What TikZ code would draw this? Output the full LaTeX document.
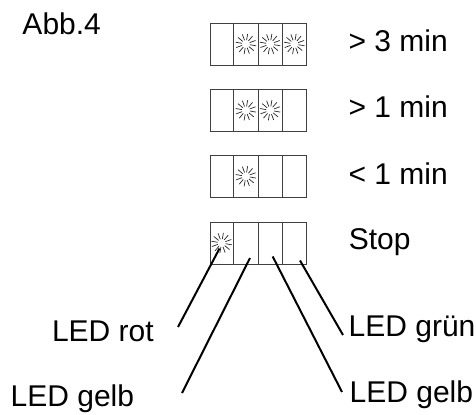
\documentclass[tikz,border=0pt]{standalone}
\usepackage{fontspec}
\setmainfont{Liberation Sans}
\usetikzlibrary{calc}
\tikzset{
  dispbox/.style={draw=black!75, line width=1bp, minimum width=96bp, minimum height=42bp, inner sep=0pt},
  divider/.style={draw=black!75, line width=1bp},
  ray/.style={draw=black!85, line width=0.7bp},
  leader/.style={draw=black, line width=2bp},
  lbl/.style={anchor=base west, inner sep=0pt, font=\fontsize{30bp}{34bp}\selectfont}
}
\newcommand\myburst[1]{%
  \foreach \a in {0,30,...,330}{\draw[ray] ($(#1)+(\a+10:4)$) -- ($(#1)+(\a+10:10.3)$);}%
}
\begin{document}
\begin{tikzpicture}[x=1bp,y=-1bp]
\useasboundingbox (0,0) rectangle (476,414);
\node[lbl] (abb) at (22.3,34.3) {Abb.4};
% boxes
\foreach \n/\y in {b1/44,b2/110.3,b3/176.3,b4/243}{
  \node[dispbox] (\n) at (258,\y) {};
  \foreach \i in {1,2,3}{
    \draw[divider] ($(\n.north west)!\i/4!(\n.north east)$) -- ($(\n.south west)!\i/4!(\n.south east)$);
  }
}
% LED bursts
\foreach \n/\f in {b1/0.375,b1/0.625,b1/0.875,b2/0.375,b2/0.625,b3/0.375,b4/0.125}{
  \coordinate (c) at ($(\n.west)!\f!(\n.east)$);
  \myburst{c}
}
% labels
\node[lbl] (t1) at (348.3,51.7) {> 3 min};
\node[lbl] (t2) at (348.3,117.9) {> 1 min};
\node[lbl] (t3) at (348.3,184.1) {< 1 min};
\node[lbl] (t4) at (348.6,249.5) {Stop};
\node[lbl] (rot) at (51.8,341.7) {LED rot};
\node[lbl] (gelbL) at (10.5,406.5) {LED gelb};
\node[lbl] (gruen) at (348.5,336) {LED grün};
\node[lbl] (gelbR) at (349.5,402) {LED gelb};
% leader lines
\coordinate (s1) at (219.5,248.5);
\coordinate (s2) at (250,258);
\coordinate (s3) at (272.7,256.5);
\coordinate (s4) at (300,260.5);
\coordinate (e1) at (178,327);
\coordinate (e2) at (182,393);
\coordinate (e3) at (342,392);
\coordinate (e4) at (343,335);
\draw[leader] (s1) -- (e1);
\draw[leader] (s2) -- (e2);
\draw[leader] (s3) -- (e3);
\draw[leader] (s4) -- (e4);
\end{tikzpicture}
\end{document}
